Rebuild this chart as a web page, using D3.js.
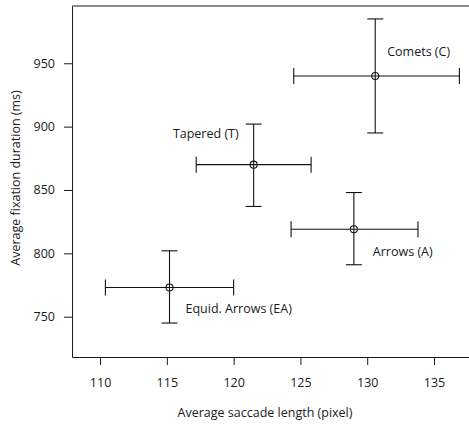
<!DOCTYPE html>
<html>
<head>
<meta charset="utf-8">
<script src="https://cdn.jsdelivr.net/npm/d3@7"></script>
<style>
  body { margin: 0; background: #fff; }
  svg text { font-family: "Open Sans", sans-serif; font-size: 12.5px; fill: #1a1a1a; }
</style>
</head>
<body>
<svg id="chart" width="469" height="428"></svg>
<script>
// values
const conditions = ["Comets (C)", "Tapered (T)", "Arrows (A)", "Equid. Arrows (EA)"];
const saccade    = [130.6, 121.5, 129.0, 115.2];
const saccadeLo  = [124.5, 117.2, 124.3, 110.4];
const saccadeHi  = [136.9, 125.8, 133.8, 120.0];
const fixation   = [940, 870, 819, 773];
const fixationLo = [895, 837, 791, 745];
const fixationHi = [985, 902, 848, 802];
const xTicks = [110, 115, 120, 125, 130, 135];
const yTicks = [750, 800, 850, 900, 950];

// where each label sits relative to its point
const labelPos = {
    "Comets (C)":         {dx: 12,  dy: -20, anchor: "start"},
    "Tapered (T)":        {dx: -15, dy: -27, anchor: "end"},
    "Arrows (A)":         {dx: 19,  dy: 27,  anchor: "start"},
    "Equid. Arrows (EA)": {dx: 16,  dy: 25,  anchor: "start"}
};

const pLeft = 72, pRight = 469, pTop = 6, pBottom = 357, tick = 8, cap = 8;

let x = d3.scaleLinear().domain([107.9, 137.62]).range([pLeft, pRight]),
    y = d3.scaleLinear().domain([718.2, 995.2]).range([pBottom, pTop]);

let svg = d3.select("#chart");

let pts = conditions.map((c,i) => ({
    name: c, x: saccade[i], y: fixation[i],
    x0: saccadeLo[i], x1: saccadeHi[i],
    y0: fixationLo[i], y1: fixationHi[i]
}));

// axes
let gx = svg.append("g").attr("transform", "translate(0,"+pBottom+")")
    .call(d3.axisBottom(x).tickValues(xTicks).tickSize(tick).tickSizeOuter(0).tickPadding(13));
let gy = svg.append("g").attr("transform", "translate("+pLeft+",0)")
    .call(d3.axisLeft(y).tickValues(yTicks).tickSize(tick).tickSizeOuter(0).tickPadding(9));
[gx, gy].forEach(g => {
    g.selectAll("path,line").attr("stroke", "#1a1a1a");
    g.selectAll("text").attr("font-family", null).attr("font-size", null);
});
svg.append("line").attr("x1", pLeft).attr("x2", pRight).attr("y1", pTop).attr("y2", pTop)
    .attr("stroke", "#1a1a1a");

// axis titles
svg.append("text").attr("x", 265).attr("y", 417).attr("text-anchor", "middle")
    .text("Average saccade length (pixel)");
svg.append("text").attr("transform", "translate(20,178) rotate(-90)")
    .attr("text-anchor", "middle").text("Average fixation duration (ms)");

// error bars
let g = svg.append("g").attr("stroke", "#111").attr("fill", "none").attr("stroke-width", 1.1);
let bars = g.selectAll("g").data(pts).join("g");
bars.append("line").attr("x1", d=>x(d.x0)).attr("x2", d=>x(d.x1))
    .attr("y1", d=>y(d.y)).attr("y2", d=>y(d.y));
bars.append("line").attr("x1", d=>x(d.x)).attr("x2", d=>x(d.x))
    .attr("y1", d=>y(d.y0)).attr("y2", d=>y(d.y1));
["x0","x1"].forEach(k => bars.append("line")
    .attr("x1", d=>x(d[k])).attr("x2", d=>x(d[k]))
    .attr("y1", d=>y(d.y)-cap).attr("y2", d=>y(d.y)+cap));
["y0","y1"].forEach(k => bars.append("line")
    .attr("x1", d=>x(d.x)-cap).attr("x2", d=>x(d.x)+cap)
    .attr("y1", d=>y(d[k])).attr("y2", d=>y(d[k])));
bars.append("circle").attr("cx", d=>x(d.x)).attr("cy", d=>y(d.y)).attr("r", 3.5);

// labels
svg.selectAll(".lbl").data(pts).join("text").attr("class", "lbl")
    .attr("x", d=>x(d.x)+labelPos[d.name].dx)
    .attr("y", d=>y(d.y)+labelPos[d.name].dy)
    .attr("text-anchor", d=>labelPos[d.name].anchor)
    .text(d=>d.name);
</script>
</body>
</html>
